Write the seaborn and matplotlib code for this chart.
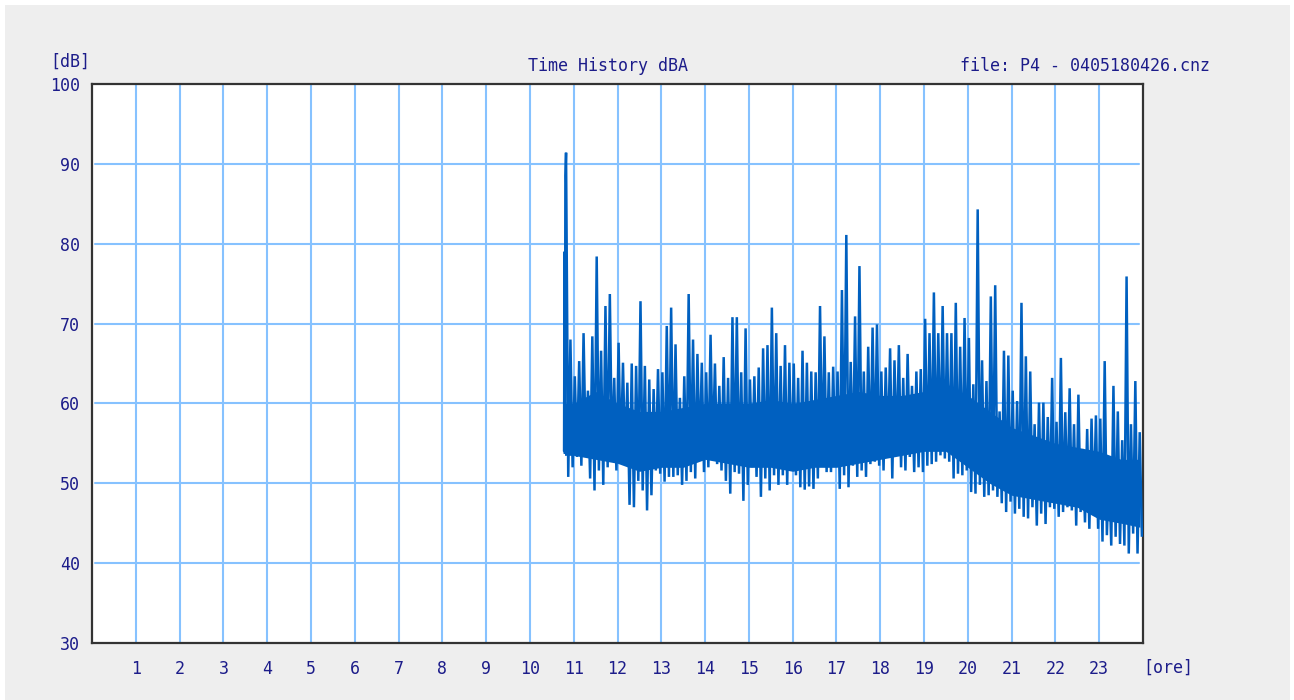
import numpy as np
import pandas as pd
import matplotlib
matplotlib.use("Agg")
import matplotlib.pyplot as plt
from matplotlib.patches import Rectangle
import seaborn as sns

# ---- data ----
# Time history sampled in 0.1-hour bins starting at 10.8 h: max / min level per bin [dB]
bin_start = 10.8
bin_width = 0.1
peak_db = [
    91.4, 68.0, 63.4, 65.3, 68.8, 61.6, 68.4, 78.4, 66.6, 72.2,   # 10.8 - 11.7
    73.7, 63.2, 67.6, 65.1, 62.6, 65.0, 64.7, 72.8, 64.7, 63.0,   # 11.8 - 12.7
    61.8, 64.3, 63.9, 69.7, 72.0, 67.4, 60.7, 63.4, 73.7, 68.0,   # 12.8 - 13.7
    66.2, 65.1, 63.9, 68.6, 65.0, 62.2, 65.8, 63.2, 70.8, 70.8,   # 13.8 - 14.7
    63.9, 69.4, 63.0, 63.4, 64.5, 66.9, 67.3, 72.0, 68.8, 64.7,   # 14.8 - 15.7
    67.3, 65.1, 65.0, 63.2, 66.6, 65.1, 64.0, 63.9, 72.2, 68.4,   # 15.8 - 16.7
    63.9, 64.6, 64.0, 74.2, 81.1, 65.2, 70.9, 77.2, 64.0, 67.1,   # 16.8 - 17.7
    69.5, 69.9, 64.0, 64.5, 66.9, 65.4, 67.3, 63.2, 66.2, 62.2,   # 17.8 - 18.7
    64.0, 64.3, 70.6, 68.8, 73.9, 68.8, 72.2, 68.8, 68.8, 72.6,   # 18.8 - 19.7
    67.1, 70.7, 68.2, 62.4, 84.3, 65.4, 62.8, 73.4, 74.8, 59.0,   # 19.8 - 20.7
    66.6, 66.0, 61.6, 60.3, 72.6, 65.9, 64.0, 57.4, 60.1, 60.1,   # 20.8 - 21.7
    58.3, 63.2, 57.7, 65.7, 58.9, 61.9, 57.4, 61.1, 54.3, 56.8,   # 21.8 - 22.7
    58.1, 58.5, 58.1, 65.3, 52.0, 62.2, 59.0, 55.4, 75.9, 57.4,   # 22.8 - 23.7
    62.8, 56.4,                                                   # 23.8 - 23.9
]
low_db = [
    50.8, 52.0, 53.3, 52.2, 53.7, 50.6, 49.1, 51.6, 49.8, 52.0,
    52.9, 51.6, 52.9, 52.7, 47.3, 47.0, 50.3, 49.1, 46.6, 48.5,
    51.6, 51.2, 50.2, 50.8, 50.8, 51.0, 49.8, 50.3, 51.4, 50.6,
    53.1, 51.4, 52.0, 53.3, 52.4, 51.6, 50.3, 48.7, 51.4, 51.2,
    47.8, 49.8, 52.0, 50.8, 48.3, 50.6, 49.1, 51.0, 49.8, 51.0,
    49.8, 51.6, 51.0, 49.5, 49.2, 49.6, 49.3, 50.6, 52.2, 51.4,
    51.4, 52.2, 49.3, 51.0, 49.5, 52.2, 50.8, 51.6, 50.8, 52.4,
    52.7, 52.2, 51.6, 53.7, 50.6, 53.7, 52.0, 51.6, 53.3, 51.4,
    52.0, 51.4, 52.2, 52.4, 52.7, 53.5, 53.1, 52.7, 50.6, 51.2,
    51.0, 51.6, 48.9, 48.7, 49.8, 48.3, 48.5, 49.1, 48.3, 47.5,
    46.4, 47.7, 46.2, 46.8, 45.8, 45.6, 47.0, 44.7, 46.2, 44.9,
    47.0, 46.8, 45.8, 46.4, 47.0, 46.6, 44.7, 46.4, 45.1, 44.3,
    46.4, 44.3, 42.7, 43.5, 42.2, 43.3, 42.4, 42.2, 41.2, 43.7,
    41.2, 43.3,
]
# extra samples at the very start of the record (hour, dB)
start_hours = [10.78, 10.79, 10.80, 10.81]
start_db = [54.0, 79.0, 53.7, 88.5]

# dense core of the signal (where the trace is solid), read every half hour
core_hours = [10.79, 11.0, 11.5, 12.0, 12.5, 13.0, 13.5, 14.0, 14.5, 15.0,
              15.5, 16.0, 16.5, 17.0, 17.5, 18.0, 18.5, 19.0, 19.5, 20.0,
              20.5, 21.0, 21.5, 22.0, 22.5, 23.0, 23.5, 23.93]
core_top = [60.0, 60.0, 61.5, 60.0, 59.0, 59.0, 59.5, 60.0, 60.0, 60.0,
            60.5, 60.0, 60.5, 61.0, 61.5, 61.0, 61.0, 61.5, 62.5, 61.0,
            59.0, 57.0, 56.0, 55.0, 54.5, 54.0, 53.0, 53.0]
core_bottom = [53.5, 53.5, 53.0, 52.5, 51.5, 52.0, 52.0, 53.0, 52.5, 52.0,
               52.0, 51.5, 52.0, 52.0, 52.5, 53.0, 53.5, 54.0, 54.0, 52.0,
               50.0, 48.5, 48.0, 47.5, 47.0, 45.5, 45.0, 44.5]

y_ticks = [30, 40, 50, 60, 70, 80, 90, 100]
x_ticks = list(range(1, 24))

title = "Time History dBA"
file_label = "file: P4 - 0405180426.cnz"
y_unit = "[dB]"
x_unit = "[ore]"

# ---- build the series: alternate max / min inside each bin ----
hours, levels = list(start_hours), list(start_db)
for i, (hi, lo) in enumerate(zip(peak_db, low_db)):
    t0 = bin_start + i * bin_width
    hours += [t0 + 0.25 * bin_width, t0 + 0.75 * bin_width]
    levels += [hi, lo]
df = pd.DataFrame({"ore": hours, "dB": levels})
core = pd.DataFrame({"ore": core_hours, "top": core_top, "bottom": core_bottom})

# ---- styling ----
sns.set_style("white")
plt.rcParams["font.family"] = ["DejaVu Sans Mono", "DejaVu Sans"]
txt_color = "#1c1c8a"
grid_color = "#86c2ff"
line_color = "#0060c0"

W, H = 1294, 700
fig = plt.figure(figsize=(W / 100, H / 100), dpi=100, facecolor="white")
fig.patches.append(Rectangle((5 / W, 0), (1290 - 5) / W, (H - 5) / H,
                             transform=fig.transFigure, facecolor="#eeeeee",
                             edgecolor="none", zorder=-10))

ax = fig.add_axes([92 / W, 1 - 643 / H, (1143 - 92) / W, (643 - 84) / H])
ax.set_facecolor("white")

# grid
for xv in x_ticks:
    ax.axvline(xv, color=grid_color, lw=1.5, zorder=1)
for yv in y_ticks[1:-1]:
    ax.axhline(yv, xmin=0.003, xmax=0.9965, color=grid_color, lw=1.5, zorder=1)

ax.fill_between(core["ore"], core["bottom"], core["top"], color=line_color,
                lw=0, zorder=2)
sns.lineplot(data=df, x="ore", y="dB", ax=ax, sort=False, estimator=None,
             color=line_color, lw=1.8, zorder=3,
             solid_joinstyle="bevel", solid_capstyle="butt")

ax.set_xlim(0, 24)
ax.set_ylim(30, 100)
ax.set_xticks(x_ticks)
ax.set_xticklabels([str(v) for v in x_ticks])
ax.set_yticks(y_ticks)
ax.set_yticklabels([str(v) for v in y_ticks])
ax.set_xlabel("")
ax.set_ylabel("")
ax.tick_params(axis="x", direction="out", length=6.5, width=1.5, color="#333333",
               pad=6, labelsize=12, labelcolor=txt_color)
ax.tick_params(axis="y", length=0, pad=8.5, labelsize=12, labelcolor=txt_color)
for sp in ax.spines.values():
    sp.set_visible(True)
    sp.set_color("#333333")
    sp.set_linewidth(1.6)

fig.text(50 / W, 1 - 62 / H, y_unit, ha="left", va="center", fontsize=12, color=txt_color)
fig.text(608 / W, 1 - 66 / H, title, ha="center", va="center", fontsize=12, color=txt_color)
fig.text(1210 / W, 1 - 66 / H, file_label, ha="right", va="center", fontsize=12, color=txt_color)
fig.text(1143 / W, 1 - 668 / H, x_unit, ha="left", va="center", fontsize=12, color=txt_color)

fig.savefig("out.png", dpi=100, facecolor=fig.get_facecolor())
